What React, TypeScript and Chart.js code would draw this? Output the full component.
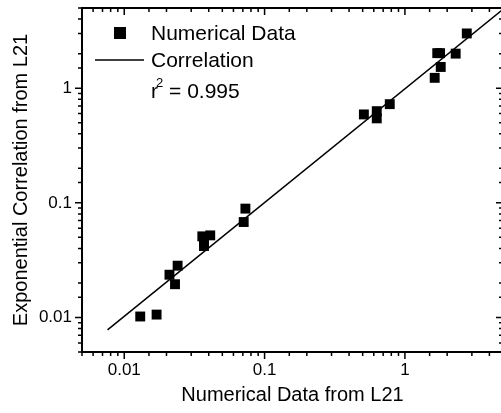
import React, { useEffect, useRef } from 'react';
import { Chart, registerables } from 'chart.js';

Chart.register(...registerables);

// Numerical data (x) vs exponential correlation (y), both from L21
const numX = [0.013, 0.017, 0.021, 0.023, 0.024, 0.036, 0.037, 0.037, 0.041, 0.071, 0.073, 0.51, 0.63, 0.63, 0.78, 1.63, 1.70, 1.78, 1.80, 2.30, 2.76];
const numY = [0.0102, 0.0106, 0.0236, 0.0195, 0.0283, 0.051, 0.046, 0.042, 0.052, 0.068, 0.089, 0.59, 0.63, 0.545, 0.725, 1.23, 2.02, 2.02, 1.53, 2.0, 3.0];
// correlation line end points
const corrX = [0.0076, 5];
const corrY = [0.0078, 4.88];
const majorTicks = [0.01, 0.1, 1];
const majorLabels = ['0.01', '0.1', '1'];
const axisMin = 0.005;
const axisMax = 5;
const legendLabels = ['Numerical Data', 'Correlation'];
const r2Text = ' = 0.995';

const FONT = '"Liberation Sans", Arial, sans-serif';

const isMajor = (v: number) => {
  const l = Math.log10(v);
  return Math.abs(l - Math.round(l)) < 1e-6;
};

const labelFor = (v: number) => {
  for (let i = 0; i < majorTicks.length; i++) {
    if (Math.abs(v - majorTicks[i]) / majorTicks[i] < 1e-6) return majorLabels[i];
  }
  return '';
};

const framePlugin = {
  id: 'frameTicks',
  afterDatasetsDraw(chart: any) {
    const { ctx, chartArea } = chart;
    const { left, right, top, bottom } = chartArea;
    const xs = chart.scales.x;
    const ys = chart.scales.y;
    const MAJ = 7;
    const MIN = 4;
    ctx.save();
    ctx.strokeStyle = '#000';
    ctx.lineCap = 'butt';
    ctx.lineWidth = 1.5;
    ctx.beginPath();
    xs.ticks.forEach((t: any) => {
      const v = t.value;
      const px = xs.getPixelForValue(v);
      const len = isMajor(v) ? MAJ : MIN;
      // bottom, outward
      ctx.moveTo(px, bottom);
      ctx.lineTo(px, bottom + len);
      // top, inward
      ctx.moveTo(px, top);
      ctx.lineTo(px, top + len);
    });
    ys.ticks.forEach((t: any) => {
      const v = t.value;
      const py = ys.getPixelForValue(v);
      const len = isMajor(v) ? MAJ : MIN;
      // left, outward
      ctx.moveTo(left, py);
      ctx.lineTo(left - len, py);
      // right, inward
      ctx.moveTo(right, py);
      ctx.lineTo(right - len, py);
    });
    ctx.stroke();
    ctx.lineWidth = 2;
    ctx.strokeRect(left, top, right - left, bottom - top);

    // legend
    ctx.lineWidth = 1.5;
    ctx.fillStyle = '#000';
    ctx.fillRect(114, 27, 12, 12);
    ctx.beginPath();
    ctx.moveTo(95, 60);
    ctx.lineTo(144, 60);
    ctx.stroke();
    ctx.font = `21px ${FONT}`;
    ctx.textBaseline = 'alphabetic';
    ctx.textAlign = 'left';
    ctx.fillText(legendLabels[0], 151, 40);
    ctx.fillText(legendLabels[1], 151, 67);
    const rx = 151;
    ctx.fillText('r', rx, 98);
    const rw = ctx.measureText('r').width;
    ctx.font = `13px ${FONT}`;
    ctx.fillText('2', rx + rw - 2, 87);
    const sw = ctx.measureText('2').width;
    ctx.font = `21px ${FONT}`;
    ctx.fillText(r2Text, rx + rw - 2 + sw, 98);
    ctx.restore();
  },
};

export default function App() {
  const ref = useRef<HTMLCanvasElement | null>(null);
  useEffect(() => {
    if (!ref.current) return;
    const tickFont = { family: FONT, size: 17 };
    const titleFont = { family: FONT, size: 20 };
    const chart = new Chart(ref.current, {
      type: 'scatter',
      data: {
        datasets: [
          {
            label: legendLabels[0],
            data: numX.map((x, i) => ({ x, y: numY[i] })),
            pointStyle: 'rect',
            pointRadius: 7,
            backgroundColor: '#000',
            borderColor: '#000',
            borderWidth: 0,
          },
          {
            label: legendLabels[1],
            data: corrX.map((x, i) => ({ x, y: corrY[i] })),
            showLine: true,
            pointRadius: 0,
            borderColor: '#000',
            borderWidth: 1.5,
            backgroundColor: '#000',
          } as any,
        ],
      },
      options: {
        animation: false,
        responsive: false,
        devicePixelRatio: 1,
        layout: { padding: { top: 8, right: 17, bottom: 0, left: 0 } },
        plugins: { legend: { display: false }, tooltip: { enabled: false } },
        scales: {
          x: {
            type: 'logarithmic',
            min: axisMin,
            max: axisMax,
            grid: { display: false, drawTicks: false, tickLength: 0 },
            border: { display: false },
            ticks: {
              autoSkip: false,
              maxRotation: 0,
              padding: 8,
              color: '#000',
              font: tickFont,
              callback: (v: any) => labelFor(Number(v)),
            },
            title: { display: true, text: 'Numerical Data from L21', color: '#000', font: titleFont, padding: { top: 0, bottom: 6 } },
            afterFit: (s: any) => {
              s.height = 61;
              s.paddingLeft = 0;
              s.paddingRight = 0;
              s.paddingTop = 0;
              s.paddingBottom = 0;
            },
          },
          y: {
            type: 'logarithmic',
            min: axisMin,
            max: axisMax,
            grid: { display: false, drawTicks: false, tickLength: 0 },
            border: { display: false },
            ticks: {
              autoSkip: false,
              padding: 10,
              color: '#000',
              font: tickFont,
              callback: (v: any) => labelFor(Number(v)),
            },
            title: { display: true, text: 'Exponential Correlation from L21', color: '#000', font: titleFont, padding: { top: 9, bottom: 0 } },
            afterFit: (s: any) => {
              s.width = 82;
              s.paddingLeft = 0;
              s.paddingRight = 0;
              s.paddingTop = 0;
              s.paddingBottom = 0;
            },
          },
        },
      },
      plugins: [framePlugin],
    });
    return () => chart.destroy();
  }, []);
  return (
    <div style={{ position: 'fixed', left: 0, top: 0, width: 501, height: 413, overflow: 'hidden', background: '#fff' }}>
      <canvas ref={ref} width={520} height={413} style={{ display: 'block' }} />
    </div>
  );
}
